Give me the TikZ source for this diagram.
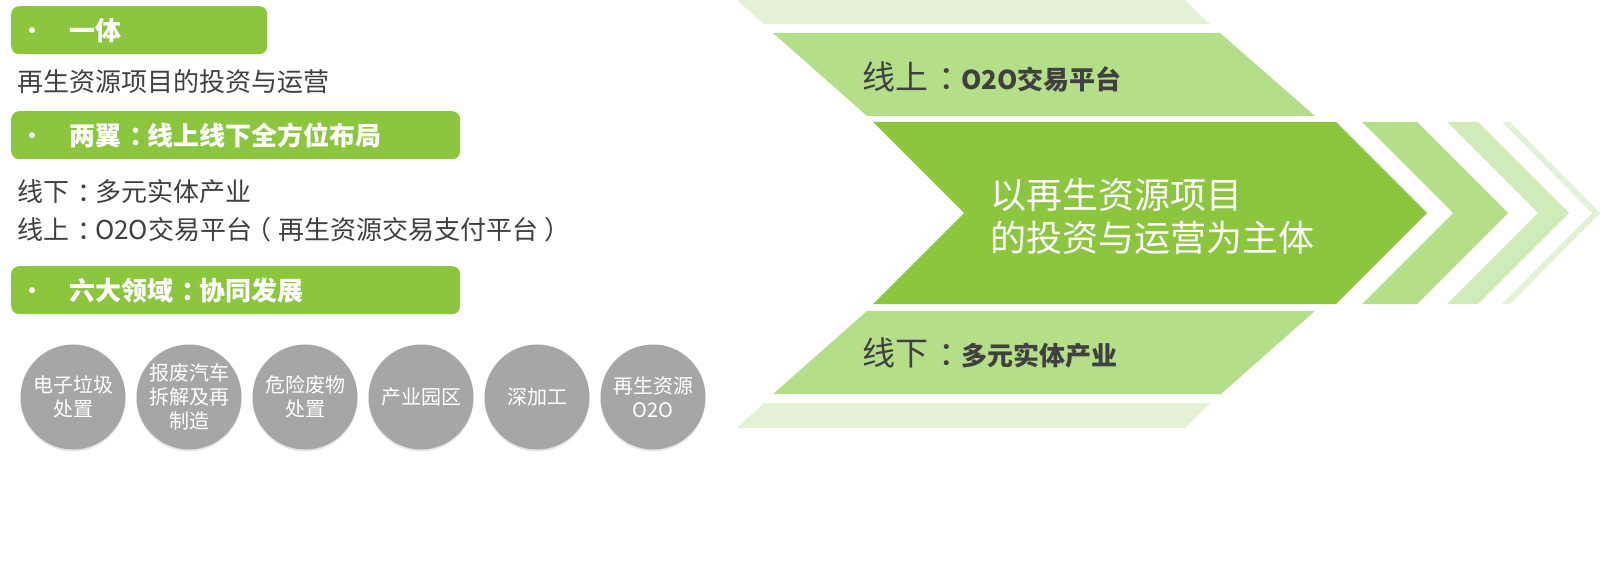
\documentclass[tikz,border=0pt]{standalone}
\usepackage{fontspec}
\setmainfont{Noto Sans CJK SC}
\usepackage{tikz}
\usetikzlibrary{positioning,shadows}
\definecolor{leaf}{RGB}{140,198,63}
\definecolor{sprout}{RGB}{181,222,137}
\definecolor{mist}{RGB}{208,234,184}
\definecolor{haze}{RGB}{227,242,214}
\definecolor{stone}{RGB}{166,166,166}
\definecolor{ink}{RGB}{64,64,64}
% centred full-width punctuation
\newcommand{\cc}{\kern0.3em：\kern-0.3em}
\newcommand{\lp}{\kern-0.25em（\kern0.25em}
\newcommand{\rp}{\kern0.25em）\kern-0.25em}
\tikzset{bar/.style={fill=leaf,rounded corners=8pt,anchor=north west,minimum height=48pt,inner sep=0pt},
	head/.style={anchor=west,inner sep=0pt,text=white,font=\bfseries\fontsize{26}{30}\selectfont},
	plain/.style={anchor=west,inner sep=0pt,text=ink,font=\fontsize{26}{30}\selectfont},
	ball/.style={circle,fill=stone,minimum size=105pt,inner sep=0pt,text=white,align=center,font=\fontsize{20}{24}\selectfont,
		drop shadow={shadow xshift=0pt,shadow yshift=-2pt,opacity=0.2}},
	lane/.style={anchor=west,inner sep=0pt,text=ink,font=\fontsize{33}{36}\selectfont},
	node distance=10.6pt}

\begin{document}
\begin{tikzpicture}[x=1pt,y=-1pt]
\useasboundingbox (0,0) rectangle (1600,564);
% left column
\node[bar,minimum width=256pt] (a) at (11,6) {};
\fill[white] ([xshift=21pt]a.west) circle (3pt);
\node[head] (a1) at ([xshift=58pt]a.west) {一体};
\node[plain] (a2) at (17,82) {再生资源项目的投资与运营};
\node[bar,minimum width=449pt] (b) at (11,111) {};
\fill[white] ([xshift=21pt]b.west) circle (3pt);
\node[head] (b1) at ([xshift=58pt]b.west) {两翼\cc 线上线下全方位布局};
\node[plain] (b2) at (17,192) {线下\cc 多元实体产业};
\node[plain] (b3) at (17,230) {线上\cc O2O交易平台\lp 再生资源交易支付平台\rp};
\node[bar,minimum width=449pt] (c) at (11,266) {};
\fill[white] ([xshift=21pt]c.west) circle (3pt);
\node[head] (c0) at ([xshift=58pt]c.west) {六大领域\cc 协同发展};
% six fields
\node[ball] (d1) at (73,397) {电子垃圾\\处置};
\node[ball,right=of d1] (d2) {报废汽车\\拆解及再\\制造};
\node[ball,right=of d2] (d3) {危险废物\\处置};
\node[ball,right=of d3] (d4) {产业园区};
\node[ball,right=of d4] (d5) {深加工};
\node[ball,right=of d5] (d6) {再生资源\\O2O};
% bands and chevrons
\fill[haze] (737,0) -- (1185,0) -- (1210,24) -- (764,24) -- cycle;
\fill[sprout] (773,33) -- (1220,33) -- (1315,116) -- (867,116) -- cycle;
\fill[leaf] (873,122) -- ++(463,0) -- ++(91,91) -- ++(-91,91) -- ++(-463,0) -- ++(91,-91) -- cycle;
\fill[sprout] (1362,122) -- ++(55,0) -- ++(91,91) -- ++(-91,91) -- ++(-55,0) -- ++(91,-91) -- cycle;
\fill[mist] (1447,122) -- ++(31,0) -- ++(91,91) -- ++(-91,91) -- ++(-31,0) -- ++(91,-91) -- cycle;
\fill[haze] (1502,122) -- ++(8,0) -- ++(90,91) -- ++(-90,91) -- ++(-8,0) -- ++(90,-91) -- cycle;
\fill[sprout] (867,311) -- (1315,311) -- (1221,394) -- (773,394) -- cycle;
\fill[haze] (764,403) -- (1210,403) -- (1185,428) -- (737,428) -- cycle;
\node[lane] (u) at (862,77) {线上\cc{\bfseries\fontsize{26}{30}\selectfont O2O交易平台}};
\node[lane] (v) at (862,353) {线下\cc{\bfseries\fontsize{26}{30}\selectfont 多元实体产业}};
\node[anchor=west,inner sep=0pt,text=white,align=left,font=\fontsize{36}{43}\selectfont] (m) at (990,216) {以再生资源项目\\的投资与运营为主体};
\end{tikzpicture}
\end{document}
